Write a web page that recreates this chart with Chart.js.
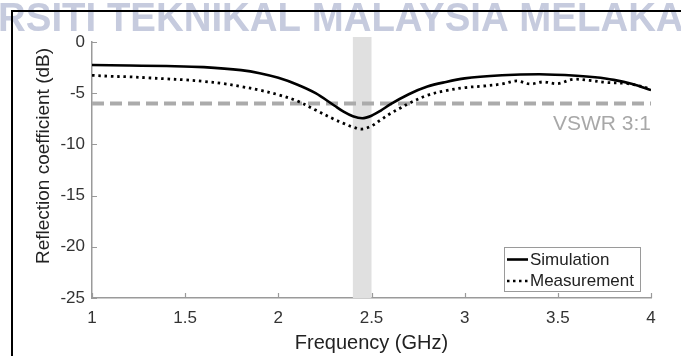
<!DOCTYPE html>
<html>
<head>
<meta charset="utf-8">
<script src="https://cdn.jsdelivr.net/npm/chart.js@4.4.1/dist/chart.umd.min.js"></script>
<style>
  body { margin: 0; background: #fff; }
  canvas { display: block; }
</style>
</head>
<body>
<canvas id="s11-plot" width="681" height="356"></canvas>
<script>
// S11 of the antenna, simulated vs measured
var simFreq = [1.0, 1.2, 1.4, 1.6, 1.8, 1.9, 2.0, 2.1, 2.2, 2.3, 2.35, 2.4, 2.45, 2.5, 2.55, 2.6, 2.7, 2.8, 2.9, 3.0, 3.2, 3.4, 3.6, 3.7, 3.8, 3.9, 4.0];
var simDb   = [-2.25, -2.3, -2.35, -2.45, -2.75, -3.05, -3.5, -4.15, -5.0, -6.2, -6.8, -7.25, -7.45, -7.2, -6.7, -6.1, -5.1, -4.35, -3.9, -3.55, -3.25, -3.15, -3.3, -3.45, -3.7, -4.1, -4.7];

var measFreq = [1.0, 1.1, 1.2, 1.3, 1.4, 1.5, 1.6, 1.7, 1.8, 1.9, 2.0, 2.1, 2.2, 2.3, 2.35, 2.4, 2.45, 2.5, 2.55, 2.6, 2.65, 2.7, 2.8, 2.9, 3.0, 3.1, 3.2, 3.28, 3.35, 3.42, 3.5, 3.58, 3.67, 3.76, 3.87, 3.93, 4.0];
var measDb   = [-3.25, -3.35, -3.4, -3.5, -3.6, -3.7, -3.85, -4.05, -4.35, -4.7, -5.15, -5.75, -6.65, -7.55, -7.95, -8.3, -8.5, -8.2, -7.6, -7.0, -6.5, -6.0, -5.2, -4.75, -4.45, -4.3, -4.1, -3.8, -4.1, -3.9, -4.07, -3.65, -3.75, -3.95, -4.05, -4.25, -4.6];

var vswrDb = -6;          // |S11| limit for VSWR 3:1
var vswrLabel = 'VSWR 3:1';
var bandFreq = [2.4, 2.5]; // 2.4 GHz ISM band

var seriesNames = ['Simulation', 'Measurement'];

function toPoints(xs, ys) {
    var pts = [];
    for (var i = 0; i < xs.length; i++) pts.push({ x: xs[i], y: ys[i] });
    return pts;
}

var FONT = '"Liberation Sans", Arial, sans-serif';
var AXIS_GREY = '#9a9a9a';

var decorations = {
    id: 'decorations',
    beforeDatasetsDraw: function(chart) {
        var ctx = chart.ctx, xs = chart.scales.x, area = chart.chartArea;
        var x0 = xs.getPixelForValue(bandFreq[0]);
        var x1 = xs.getPixelForValue(bandFreq[1]);
        ctx.save();
        ctx.fillStyle = '#e0e0e0';
        ctx.fillRect(x0, area.top - 5, x1 - x0, area.bottom - area.top + 5);
        ctx.restore();
    },
    afterDraw: function(chart) {
        var ctx = chart.ctx, xs = chart.scales.x, ys = chart.scales.y, area = chart.chartArea;
        ctx.save();

        // inward tick marks
        ctx.strokeStyle = AXIS_GREY;
        ctx.lineWidth = 1.2;
        ctx.beginPath();
        xs.ticks.forEach(function(t) {
            var px = Math.round(xs.getPixelForValue(t.value)) + 0.5;
            ctx.moveTo(px, area.bottom);
            ctx.lineTo(px, area.bottom - 5);
        });
        ys.ticks.forEach(function(t) {
            var py = Math.round(ys.getPixelForValue(t.value)) + 0.5;
            ctx.moveTo(area.left, py);
            ctx.lineTo(area.left + 5, py);
        });
        ctx.stroke();

        // VSWR label under the dashed line
        ctx.fillStyle = '#a8a8a8';
        ctx.font = '21px ' + FONT;
        ctx.textAlign = 'right';
        ctx.textBaseline = 'alphabetic';
        ctx.fillText(vswrLabel, area.right, ys.getPixelForValue(vswrDb) + 27);

        // legend
        var lx = 504.5, ly = 247.5, lw = 136, lh = 44;
        ctx.fillStyle = '#fff';
        ctx.fillRect(lx, ly, lw, lh);
        ctx.strokeStyle = AXIS_GREY;
        ctx.lineWidth = 1;
        ctx.strokeRect(lx, ly, lw, lh);
        ctx.strokeStyle = '#000';
        ctx.lineWidth = 2.6;
        ctx.beginPath();
        ctx.moveTo(507, 259.5); ctx.lineTo(528, 259.5);
        ctx.stroke();
        ctx.setLineDash([2.5, 3.5]);
        ctx.beginPath();
        ctx.moveTo(507, 281); ctx.lineTo(528, 281);
        ctx.stroke();
        ctx.setLineDash([]);
        ctx.fillStyle = '#222';
        ctx.font = '17px ' + FONT;
        ctx.textAlign = 'left';
        ctx.textBaseline = 'middle';
        ctx.fillText(seriesNames[0], 530, 260);
        ctx.fillText(seriesNames[1], 530, 281);

        // axis titles
        ctx.font = '20px ' + FONT;
        ctx.textAlign = 'center';
        ctx.fillText('Frequency (GHz)', (area.left + area.right) / 2, 343);
        ctx.save();
        ctx.translate(44, 156);
        ctx.rotate(-Math.PI / 2);
        ctx.font = '19px ' + FONT;
        ctx.fillText('Reflection coefficient (dB)', 0, 0);
        ctx.restore();

        // banner text across the top, slightly condensed
        ctx.save();
        ctx.scale(0.96, 1);
        ctx.fillStyle = '#c6cbde';
        ctx.font = 'bold 40px ' + FONT;
        ctx.textAlign = 'left';
        ctx.textBaseline = 'alphabetic';
        ctx.fillText('RSITI TEKNIKAL MALAYSIA MELAKA', -2, 31);
        ctx.restore();

        // frame
        ctx.strokeStyle = '#000';
        ctx.lineWidth = 2;
        ctx.beginPath();
        ctx.moveTo(12, 356);
        ctx.lineTo(12, 11);
        ctx.lineTo(681, 11);
        ctx.stroke();

        ctx.restore();
    }
};

function plainTick(value) {
    return String(value);
}

var chart = new Chart(document.getElementById('s11-plot').getContext('2d'), {
    type: 'line',
    data: {
        datasets: [
            { label: seriesNames[0], data: toPoints(simFreq, simDb), borderColor: '#000', borderWidth: 2.6,
              pointRadius: 0, tension: 0.4, cubicInterpolationMode: 'monotone', order: 1 },
            { label: seriesNames[1], data: toPoints(measFreq, measDb), borderColor: '#000', borderWidth: 2.8,
              borderDash: [2.5, 3.8], pointRadius: 0, tension: 0.35, order: 2 },
            { label: vswrLabel, data: toPoints([1, 4], [vswrDb, vswrDb]), borderColor: '#ababab', borderWidth: 4,
              borderDash: [12, 6], pointRadius: 0, order: 3 }
        ]
    },
    options: {
        responsive: false,
        animation: false,
        layout: { padding: { left: 0, top: 42, right: 30, bottom: 0 } },
        plugins: { legend: { display: false }, tooltip: { enabled: false } },
        scales: {
            x: {
                type: 'linear', min: 1, max: 4,
                ticks: { stepSize: 0.5, color: '#333', padding: 10, font: { family: FONT, size: 17 }, callback: plainTick },
                grid: { drawOnChartArea: false, drawTicks: false },
                border: { color: AXIS_GREY, width: 1.5 },
                afterFit: function(scale) { scale.height = 58; }
            },
            y: {
                min: -25, max: 0,
                ticks: { stepSize: 5, color: '#333', padding: 7, font: { family: FONT, size: 17 }, callback: plainTick },
                grid: { drawOnChartArea: false, drawTicks: false },
                border: { color: AXIS_GREY, width: 1.5 },
                afterFit: function(scale) { scale.width = 92; }
            }
        }
    },
    plugins: [decorations]
});
</script>
</body>
</html>
